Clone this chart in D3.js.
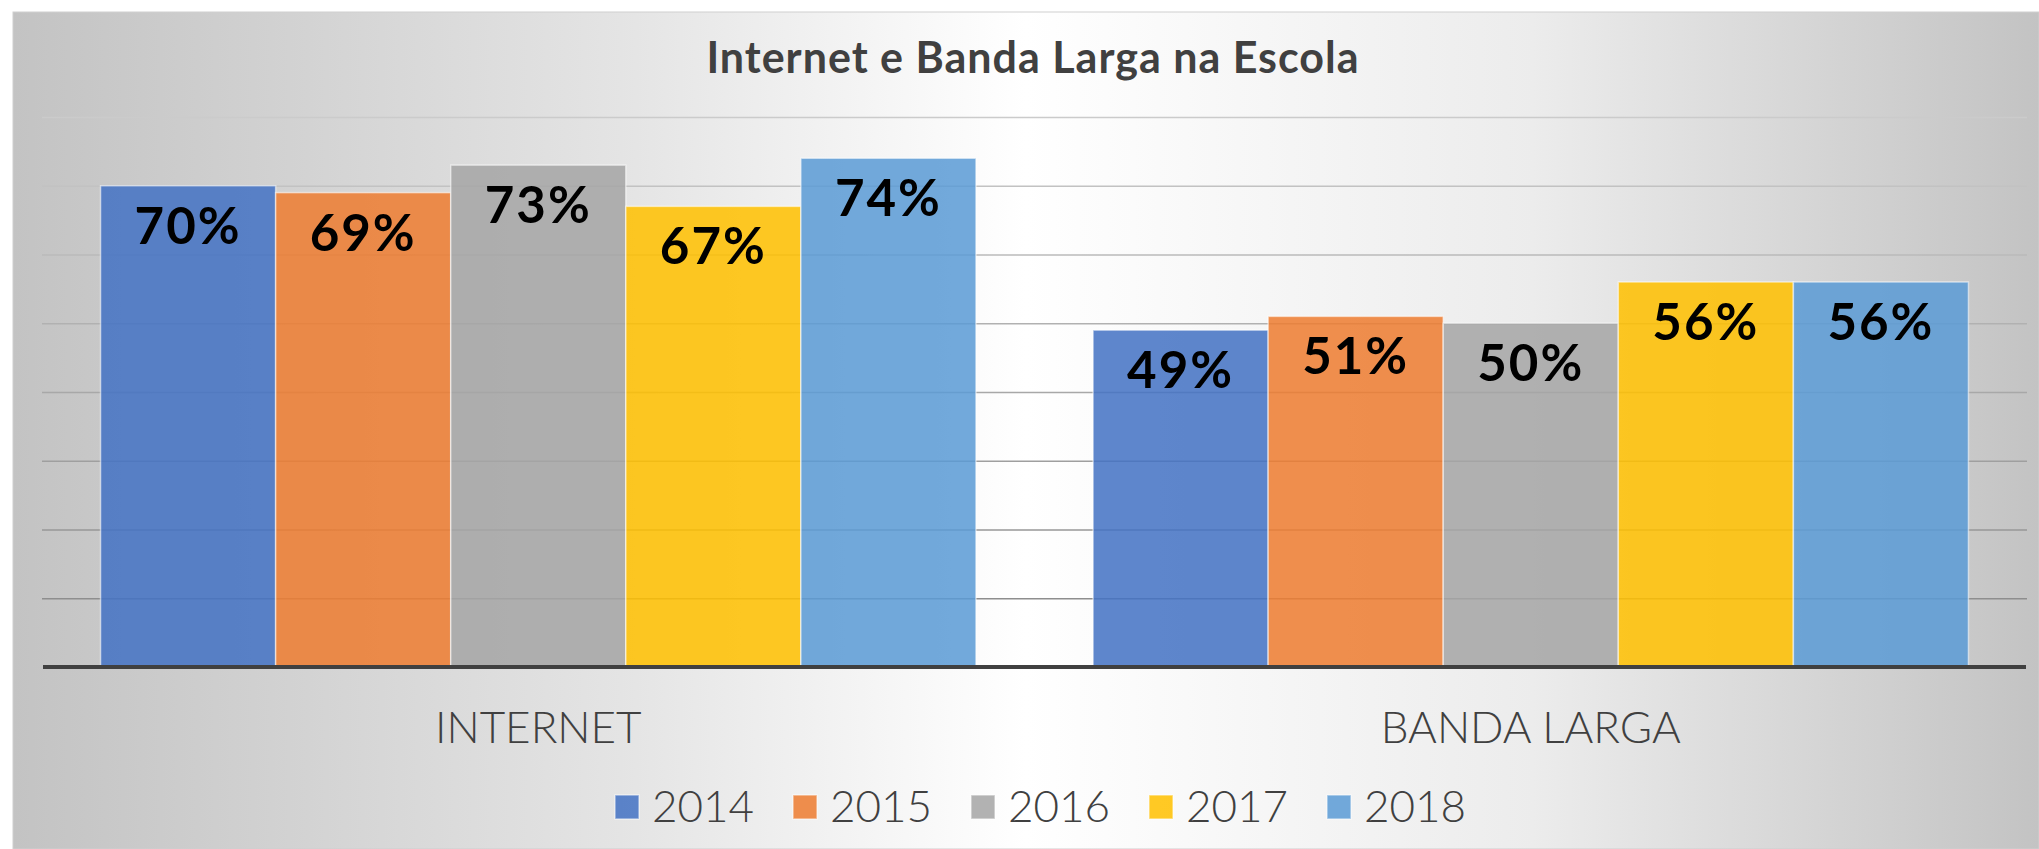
<!DOCTYPE html>
<html>
<head>
<meta charset="utf-8">
<script src="https://cdn.jsdelivr.net/npm/d3@7"></script>
<style>
  html, body { margin: 0; padding: 0; background: #fff; }
  svg { display: block; }
  text { font-family: Lato, "Open Sans", sans-serif; }
</style>
</head>
<body>
<svg id="viz" width="2039" height="849"></svg>
<script>
// chart data
var title = "Internet e Banda Larga na Escola";
var categories = ["INTERNET", "BANDA LARGA"];
var years = ["2014", "2015", "2016", "2017", "2018"];
var internet = [0.70, 0.69, 0.73, 0.67, 0.74];
var bandaLarga = [0.49, 0.51, 0.50, 0.56, 0.56];
var yTicks = [0.1, 0.2, 0.3, 0.4, 0.5, 0.6, 0.7, 0.8];
var yearColors = ["#4472C4", "#ED7D31", "#A5A5A5", "#FFC000", "#5B9BD5"];

var seriesByCat = { "INTERNET": internet, "BANDA LARGA": bandaLarga };

var svg = d3.select("#viz");
var W = +svg.attr("width"), H = +svg.attr("height");

// background, grey at the sides, white in the middle
var defs = svg.append("defs");
var bg = defs.append("linearGradient").attr("id", "bg")
  .attr("x1", "0%").attr("x2", "100%").attr("y1", "0%").attr("y2", "0%");
[[0, "#c3c3c3"], [0.3, "#e4e4e4"], [0.5, "#ffffff"], [0.75, "#ececec"], [1, "#c3c3c3"]]
  .forEach(function(s){ bg.append("stop").attr("offset", s[0]).attr("stop-color", s[1]); });

svg.append("rect")
  .attr("x", 13).attr("y", 12)
  .attr("width", W - 13).attr("height", H - 12)
  .attr("fill", "url(#bg)")
  .attr("stroke", "#cfcfcf").attr("stroke-width", 1);

var plotLeft = 42, plotRight = 2027, plotTop = 117, plotBottom = 667;

var x0 = d3.scaleBand().domain(categories)
  .range([plotLeft, plotRight])
  .paddingInner(0.118).paddingOuter(0.059);
var x1 = d3.scaleBand().domain(years).range([0, x0.bandwidth()]);
var y = d3.scaleLinear().domain([0, 0.8]).range([plotBottom, plotTop]);
var color = d3.scaleOrdinal().domain(years).range(yearColors);

// gridlines, darker near the bottom
var gridShade = d3.scaleLinear().domain([0.1, 0.8]).range(["#8e8e8e", "#cbcbcb"]);
var grid = svg.append("g")
  .attr("transform", "translate(" + plotLeft + ",0)")
  .call(d3.axisLeft(y).tickValues(yTicks).tickSize(-(plotRight - plotLeft)).tickFormat(""));
grid.select(".domain").remove();
grid.selectAll(".tick line")
  .attr("stroke", function(d){ return gridShade(d); })
  .attr("stroke-width", 1.6);

// bars
var groups = svg.append("g").selectAll("g")
  .data(categories)
  .join("g")
  .attr("transform", function(c){ return "translate(" + x0(c) + ",0)"; });

var bars = groups.selectAll("g")
  .data(function(c){
    return seriesByCat[c].map(function(v, i){ return { cat: c, year: years[i], value: v }; });
  })
  .join("g");

bars.append("rect")
  .attr("x", function(d){ return x1(d.year); })
  .attr("y", function(d){ return y(d.value); })
  .attr("width", x1.bandwidth())
  .attr("height", function(d){ return y(0) - y(d.value); })
  .attr("fill", function(d){ return color(d.year); })
  .attr("fill-opacity", 0.86)
  .attr("stroke", "rgba(255,255,255,0.55)")
  .attr("stroke-width", 1.5);

bars.append("text")
  .attr("x", function(d){ return x1(d.year) + x1.bandwidth() / 2; })
  .attr("y", function(d){ return y(d.value) + 58; })
  .attr("text-anchor", "middle")
  .attr("font-size", 51)
  .attr("font-weight", 700)
  .attr("letter-spacing", 2)
  .attr("fill", "#000")
  .text(function(d){ return Math.round(d.value * 100) + "%"; });

// category axis
var xAxis = svg.append("g")
  .attr("transform", "translate(0," + plotBottom + ")")
  .call(d3.axisBottom(x0).tickSize(0));
xAxis.select(".domain").remove();
xAxis.selectAll(".tick text")
  .attr("y", 76).attr("dy", 0)
  .attr("font-size", 44)
  .attr("font-family", "Lato, sans-serif")
  .attr("font-weight", 300)
  .attr("fill", "#404040");

svg.append("line")
  .attr("x1", plotLeft + 1).attr("x2", plotRight - 1)
  .attr("y1", plotBottom).attr("y2", plotBottom)
  .attr("stroke", "#404040").attr("stroke-width", 4);

// title
svg.append("text")
  .attr("x", 1033).attr("y", 73)
  .attr("text-anchor", "middle")
  .attr("font-size", 43)
  .attr("font-weight", 700)
  .attr("letter-spacing", 1)
  .attr("fill", "#404040")
  .text(title);

// legend
var legend = svg.append("g");
var item = legend.selectAll("g").data(years).join("g");
item.append("rect")
  .attr("y", 795).attr("width", 24).attr("height", 24)
  .attr("fill", function(d){ return color(d); })
  .attr("fill-opacity", 0.86)
  .attr("stroke", "rgba(255,255,255,0.5)").attr("stroke-width", 1.5);
item.append("text")
  .attr("x", 37).attr("y", 822)
  .attr("font-size", 44)
  .attr("font-weight", 300)
  .attr("fill", "#404040")
  .text(function(d){ return d; });
item.attr("transform", function(d, i){ return "translate(" + (615 + i * 178) + ",0)"; });
</script>
</body>
</html>
